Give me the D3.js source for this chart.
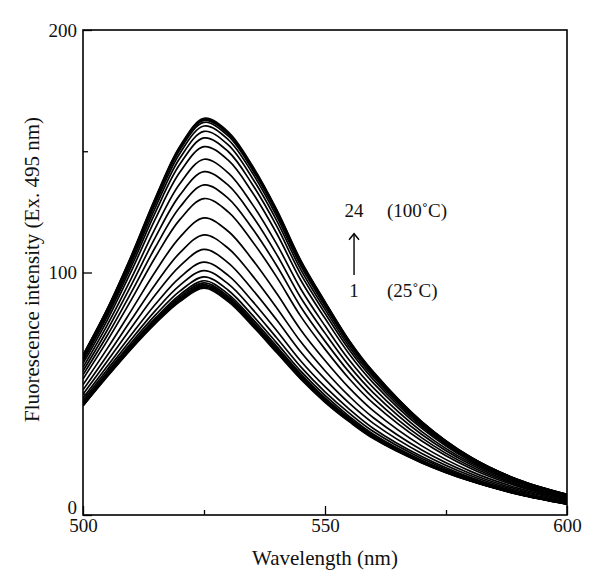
<!DOCTYPE html>
<html>
<head>
<meta charset="utf-8">
<script src="https://cdn.jsdelivr.net/npm/d3@7"></script>
<style>
  body { margin: 0; background: #fff; }
  text { font-family: "Liberation Serif", "DejaVu Serif", serif; fill: #111; }
</style>
</head>
<body>
<div id="chart"></div>
<script>
var wavelength = [500, 505, 510, 515, 520, 525, 530, 535, 540, 545, 550, 555, 560, 570, 580, 590, 600];

// fluorescence intensity, spectrum 1 (25 C) ... spectrum 24 (100 C)
var spectra = [
  [45.0, 57.0, 68.5, 79.0, 88.0, 93.5, 88.0, 78.0, 67.0, 56.0, 46.5, 38.5, 31.5, 21.5, 14.0, 8.5, 4.5],
  [45.1, 57.2, 68.8, 79.4, 88.4, 94.0, 88.5, 78.5, 67.4, 56.3, 46.8, 38.7, 31.7, 21.6, 14.1, 8.5, 4.5],
  [45.3, 57.4, 69.0, 79.7, 88.9, 94.5, 89.0, 78.9, 67.8, 56.7, 47.1, 39.0, 31.9, 21.7, 14.1, 8.6, 4.6],
  [45.4, 57.6, 69.3, 80.1, 89.3, 95.0, 89.5, 79.4, 68.2, 57.0, 47.4, 39.2, 32.1, 21.9, 14.2, 8.6, 4.6],
  [45.7, 57.9, 69.7, 80.6, 90.0, 95.7, 90.2, 80.0, 68.8, 57.5, 47.8, 39.5, 32.4, 22.0, 14.3, 8.7, 4.6],
  [45.9, 58.2, 70.2, 81.3, 90.8, 96.6, 91.1, 80.9, 69.6, 58.2, 48.3, 40.0, 32.7, 22.3, 14.4, 8.8, 4.7],
  [46.4, 58.9, 71.1, 82.5, 92.3, 98.2, 92.7, 82.4, 71.0, 59.3, 49.3, 40.7, 33.3, 22.6, 14.7, 8.9, 4.8],
  [47.2, 59.9, 72.5, 84.4, 94.7, 100.8, 95.3, 84.9, 73.1, 61.1, 50.8, 42.0, 34.4, 23.3, 15.0, 9.1, 4.9],
  [48.2, 61.3, 74.4, 87.0, 97.9, 104.3, 98.8, 88.2, 76.1, 63.5, 52.9, 43.7, 35.7, 24.1, 15.5, 9.4, 5.1],
  [49.8, 63.4, 77.3, 90.9, 102.6, 109.5, 104.0, 93.0, 80.5, 67.2, 56.0, 46.1, 37.8, 25.4, 16.3, 9.9, 5.4],
  [51.6, 65.8, 80.6, 95.3, 108.1, 115.5, 110.0, 98.7, 85.5, 71.4, 59.5, 49.0, 40.1, 26.8, 17.1, 10.4, 5.8],
  [53.7, 68.6, 84.4, 100.5, 114.5, 122.5, 117.0, 105.3, 91.4, 76.3, 63.7, 52.4, 42.9, 28.5, 18.1, 11.0, 6.2],
  [56.1, 71.8, 88.8, 106.5, 121.8, 130.5, 125.0, 112.8, 98.2, 81.9, 68.4, 56.2, 46.0, 30.5, 19.3, 11.7, 6.6],
  [57.8, 74.0, 91.9, 110.6, 126.9, 136.1, 130.6, 118.1, 102.9, 85.8, 71.7, 58.9, 48.2, 31.8, 20.1, 12.2, 6.9],
  [59.4, 76.2, 94.9, 114.7, 131.9, 141.6, 136.0, 123.3, 107.5, 89.6, 75.0, 61.5, 50.4, 33.2, 20.9, 12.6, 7.2],
  [60.9, 78.3, 97.7, 118.5, 136.6, 146.7, 141.1, 128.1, 111.8, 93.2, 78.0, 63.9, 52.4, 34.4, 21.6, 13.1, 7.5],
  [62.5, 80.3, 100.6, 122.3, 141.3, 151.9, 146.3, 133.0, 116.2, 96.8, 81.1, 66.4, 54.4, 35.7, 22.3, 13.5, 7.8],
  [63.6, 81.8, 102.5, 125.0, 144.6, 155.5, 149.9, 136.3, 119.2, 99.3, 83.2, 68.1, 55.8, 36.5, 22.8, 13.8, 8.0],
  [64.4, 82.8, 104.0, 127.0, 147.1, 158.2, 152.6, 138.9, 121.5, 101.2, 84.8, 69.4, 56.9, 37.2, 23.2, 14.0, 8.2],
  [65.0, 83.7, 105.2, 128.6, 149.1, 160.4, 154.8, 141.0, 123.3, 102.7, 86.1, 70.5, 57.7, 37.7, 23.5, 14.2, 8.3],
  [65.5, 84.3, 106.1, 129.8, 150.5, 161.9, 156.3, 142.4, 124.6, 103.8, 87.0, 71.2, 58.3, 38.1, 23.8, 14.4, 8.4],
  [65.7, 84.6, 106.5, 130.3, 151.2, 162.7, 157.1, 143.1, 125.2, 104.4, 87.5, 71.6, 58.6, 38.3, 23.9, 14.4, 8.5],
  [65.9, 84.8, 106.8, 130.7, 151.6, 163.2, 157.6, 143.6, 125.7, 104.7, 87.8, 71.8, 58.8, 38.4, 23.9, 14.5, 8.5],
  [66.0, 85.0, 107.0, 131.0, 152.0, 163.6, 158.0, 144.0, 126.0, 105.0, 88.0, 72.0, 59.0, 38.5, 24.0, 14.5, 8.5]
];

var xMajor = [500, 550, 600];
var xMinor = [525, 575];
var yMajor = [0, 100, 200];
var yMinor = [50, 150];

var svgWidth = 600;
var svgHeight = 588;

var margin = { top: 30, right: 33, bottom: 73, left: 83 };
var width = svgWidth - margin.left - margin.right;
var height = svgHeight - margin.top - margin.bottom;

var svg = d3.select("#chart")
  .append("svg")
  .attr("width", svgWidth)
  .attr("height", svgHeight);

var chartGroup = svg.append("g")
  .attr("transform", `translate(${margin.left}, ${margin.top})`);

var xScale = d3.scaleLinear().domain([500, 600]).range([0, width]);
var yScale = d3.scaleLinear().domain([0, 200]).range([height, 0]);

// spectra
var line = d3.line()
  .x((d, i) => xScale(wavelength[i]))
  .y(d => yScale(d))
  .curve(d3.curveCatmullRom.alpha(0.5));

svg.append("clipPath").attr("id", "clip")
  .append("rect").attr("width", width).attr("height", height);

chartGroup.append("g")
  .attr("clip-path", "url(#clip)")
  .selectAll("path")
  .data(spectra)
  .enter()
  .append("path")
  .attr("d", line)
  .attr("fill", "none")
  .attr("stroke", "#000")
  .attr("stroke-width", 1.7);

// axes, ticks pointing inward
chartGroup.append("g")
  .attr("transform", `translate(0, ${height})`)
  .call(d3.axisBottom(xScale).tickValues(xMajor).tickSizeInner(-9).tickSizeOuter(0).tickPadding(4).tickFormat(d3.format("d")));
chartGroup.append("g")
  .attr("transform", `translate(0, ${height})`)
  .call(d3.axisBottom(xScale).tickValues(xMinor).tickSizeInner(-5).tickSizeOuter(0).tickFormat(""));

var yAxis = chartGroup.append("g")
  .call(d3.axisLeft(yScale).tickValues(yMajor).tickSizeInner(-9).tickSizeOuter(0).tickPadding(6).tickFormat(d3.format("d")));
chartGroup.append("g")
  .call(d3.axisLeft(yScale).tickValues(yMinor).tickSizeInner(-5).tickSizeOuter(0).tickFormat(""));

chartGroup.selectAll(".domain").remove();
chartGroup.selectAll(".tick line").attr("stroke", "#000").attr("stroke-width", 1.3);
chartGroup.selectAll(".tick text").attr("font-size", "19px").attr("fill", "#111");
// lift the "0" a little so it clears the "500" below it
yAxis.selectAll(".tick text").filter(d => d === 0).attr("dy", "-0.1em");

// frame
chartGroup.append("rect")
  .attr("width", width)
  .attr("height", height)
  .attr("fill", "none")
  .attr("stroke", "#000")
  .attr("stroke-width", 1.6);

// axis titles
chartGroup.append("text")
  .attr("x", width / 2)
  .attr("y", height + 50)
  .attr("text-anchor", "middle")
  .attr("font-size", "21px")
  .text("Wavelength (nm)");

chartGroup.append("text")
  .attr("transform", "rotate(-90)")
  .attr("x", 0 - height / 2 + 3)
  .attr("y", -44)
  .attr("text-anchor", "middle")
  .attr("font-size", "21px")
  .text("Fluorescence intensity (Ex. 495 nm)");

// temperature annotation
var note = chartGroup.append("g");
note.append("text").attr("x", xScale(556)).attr("y", yScale(123)).attr("text-anchor", "middle")
  .attr("font-size", "19px").text("24");
note.append("text").attr("x", xScale(562.8)).attr("y", yScale(123))
  .attr("font-size", "19px").text("(100˚C)");
note.append("text").attr("x", xScale(556)).attr("y", yScale(90)).attr("text-anchor", "middle")
  .attr("font-size", "19px").text("1");
note.append("text").attr("x", xScale(562.8)).attr("y", yScale(90))
  .attr("font-size", "19px").text("(25˚C)");

note.append("line")
  .attr("x1", xScale(556)).attr("x2", xScale(556))
  .attr("y1", yScale(99)).attr("y2", yScale(116))
  .attr("stroke", "#000").attr("stroke-width", 1.4);
note.append("path")
  .attr("d", `M${xScale(556) - 5},${yScale(113.5)} L${xScale(556)},${yScale(116)} L${xScale(556) + 5},${yScale(113.5)}`)
  .attr("fill", "none").attr("stroke", "#000").attr("stroke-width", 1.4);
</script>
</body>
</html>
